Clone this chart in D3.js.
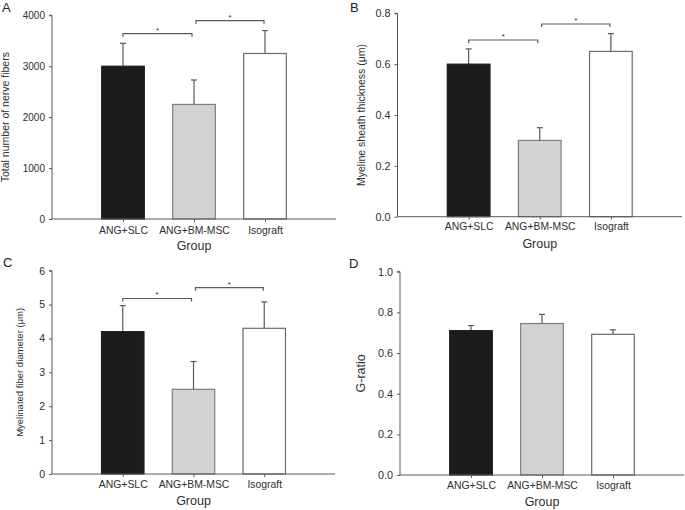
<!DOCTYPE html>
<html>
<head>
<meta charset="utf-8">
<script src="https://cdn.jsdelivr.net/npm/d3@7"></script>
<style>
  body { margin: 0; background: #fff; }
  svg { display: block; font-family: "Liberation Sans", Arial, sans-serif; }
</style>
</head>
<body>
<script>
const groups = ["ANG+SLC", "ANG+BM-MSC", "Isograft"];

// panel A
const fibersMean = [3000, 2250, 3250];
const fibersErr = [450, 480, 450];
const fibersTicks = [0, 1000, 2000, 3000, 4000];
const fibersSig = [[0, 1, 3640], [1, 2, 3894]];

// panel B
const sheathMean = [0.6, 0.3, 0.65];
const sheathErr = [0.06, 0.05, 0.07];
const sheathTicks = [0, 0.2, 0.4, 0.6, 0.8];
const sheathSig = [[0, 1, 0.695], [1, 2, 0.758]];

// panel C
const diameterMean = [4.2, 2.5, 4.3];
const diameterErr = [0.77, 0.82, 0.78];
const diameterTicks = [0, 1, 2, 3, 4, 5, 6];
const diameterSig = [[0, 1, 5.18], [1, 2, 5.5]];

// panel D
const gratioMean = [0.71, 0.745, 0.692];
const gratioErr = [0.025, 0.045, 0.022];
const gratioTicks = [0, 0.2, 0.4, 0.6, 0.8, 1.0];
const gratioSig = [];

const fills = ["#1c1c1c", "#d3d3d3", "#ffffff"];
const strokes = ["#1c1c1c", "#7d7d7d", "#6a6a6a"];
const axisColor = "#5a5a5a";
const textColor = "#2e2e2e";

const panels = [
  { letter: "A", lx: 2, ly: 12, left: 52, right: 336, top: 15.3, bottom: 219, catY: 14.5,
    mean: fibersMean, err: fibersErr, ticks: fibersTicks, fmt: d3.format("d"), tickSize: 10,
    sig: fibersSig, title: "Total number of nerve fibers", titleX: 6.5, titleSize: 10.5 },
  { letter: "B", lx: 350, ly: 12, left: 397.5, right: 682, top: 13.3, bottom: 216.7, catY: 13.5,
    mean: sheathMean, err: sheathErr, ticks: sheathTicks, fmt: d3.format(".1f"), tickSize: 10.8,
    sig: sheathSig, title: "Myeline sheath thickness (\u03bcm)", titleX: 362, titleSize: 10.5 },
  { letter: "C", lx: 3, ly: 267, left: 52, right: 335, top: 270.7, bottom: 474, catY: 14,
    mean: diameterMean, err: diameterErr, ticks: diameterTicks, fmt: d3.format("d"), tickSize: 10.5,
    sig: diameterSig, title: "Myelinated fiber diameter (\u03bcm)", titleX: 20.5, titleSize: 9.5 },
  { letter: "D", lx: 349, ly: 268, left: 400, right: 684, top: 271.7, bottom: 475, catY: 14,
    mean: gratioMean, err: gratioErr, ticks: gratioTicks, fmt: d3.format(".1f"), tickSize: 10.8,
    sig: gratioSig, title: "G-ratio", titleX: 362, titleSize: 12.5 }
];

const svg = d3.select("body").append("svg")
  .attr("width", 685)
  .attr("height", 510);

panels.forEach((p) => {
  const g = svg.append("g");
  const x = d3.scaleLinear().domain([0, 4]).range([p.left, p.right]);
  const y = d3.scaleLinear().domain([p.ticks[0], p.ticks[p.ticks.length - 1]]).range([p.bottom, p.top]);
  const bw = x(0.6) - x(0);

  // error bars (drawn first so bar covers the lower part)
  g.selectAll("line.err").data(p.mean).enter().append("line")
    .attr("x1", (d, i) => x(i + 1)).attr("x2", (d, i) => x(i + 1))
    .attr("y1", (d) => y(d)).attr("y2", (d, i) => y(d + p.err[i]))
    .attr("stroke", axisColor).attr("stroke-width", 1.2);
  g.selectAll("line.cap").data(p.mean).enter().append("line")
    .attr("x1", (d, i) => x(i + 1) - 3).attr("x2", (d, i) => x(i + 1) + 3)
    .attr("y1", (d, i) => y(d + p.err[i])).attr("y2", (d, i) => y(d + p.err[i]))
    .attr("stroke", axisColor).attr("stroke-width", 1.2);

  // bars
  g.selectAll("rect").data(p.mean).enter().append("rect")
    .attr("x", (d, i) => x(i + 1) - bw / 2)
    .attr("y", (d) => y(d))
    .attr("width", bw)
    .attr("height", (d) => p.bottom - y(d))
    .attr("fill", (d, i) => fills[i])
    .attr("stroke", (d, i) => strokes[i])
    .attr("stroke-width", 1.2);

  // y axis
  const yAxis = d3.axisLeft(y).tickValues(p.ticks).tickFormat(p.fmt).tickSize(3).tickPadding(4);
  const ya = g.append("g").attr("transform", `translate(${p.left},0)`).call(yAxis);
  ya.select(".domain").attr("stroke", axisColor).attr("d", `M-3,${p.top}H0V${p.bottom}`);
  ya.selectAll(".tick line").attr("stroke", axisColor);
  ya.selectAll(".tick text").attr("fill", textColor)
    .style("font-size", p.tickSize + "px").style("font-family", "Liberation Sans, Arial, sans-serif");

  // x axis
  const xAxis = d3.axisBottom(x).tickValues([1, 2, 3]).tickFormat((d) => groups[d - 1]).tickSize(3).tickPadding(0);
  const xa = g.append("g").attr("transform", `translate(0,${p.bottom})`).call(xAxis);
  xa.select(".domain").attr("stroke", axisColor).attr("d", `M${p.left},0H${p.right}`);
  xa.selectAll(".tick line").attr("stroke", axisColor);
  xa.selectAll(".tick text").attr("fill", textColor)
    .attr("y", p.catY).attr("dy", null)
    .style("font-size", "10.4px").style("font-family", "Liberation Sans, Arial, sans-serif");

  // x title
  g.append("text")
    .attr("x", (p.left + p.right) / 2).attr("y", p.bottom + 31)
    .attr("text-anchor", "middle").attr("fill", textColor)
    .style("font-size", "12.5px").text("Group");

  // y title
  g.append("text")
    .attr("transform", `translate(${p.titleX},${(p.top + p.bottom) / 2}) rotate(-90)`)
    .attr("text-anchor", "middle").attr("dominant-baseline", "middle").attr("fill", textColor)
    .style("font-size", p.titleSize + "px").text(p.title);

  // panel letter
  g.append("text").attr("x", p.lx).attr("y", p.ly)
    .attr("fill", "#222").style("font-size", "13px").text(p.letter);

  // significance brackets
  p.sig.forEach(([a, b, v], k) => {
    const x1 = x(a + 1) + (k === 0 ? 0 : 2);
    const x2 = x(b + 1) - (k === 0 ? 2 : 1);
    g.append("path")
      .attr("d", `M${x1},${y(v) + 3}V${y(v)}H${x2}V${y(v) + 3}`)
      .attr("fill", "none").attr("stroke", axisColor).attr("stroke-width", 1.2);
    g.append("text").attr("x", (x1 + x2) / 2).attr("y", y(v) - 1)
      .attr("text-anchor", "middle").attr("fill", textColor)
      .style("font-size", "8px").text("*");
  });
});
</script>
</body>
</html>
